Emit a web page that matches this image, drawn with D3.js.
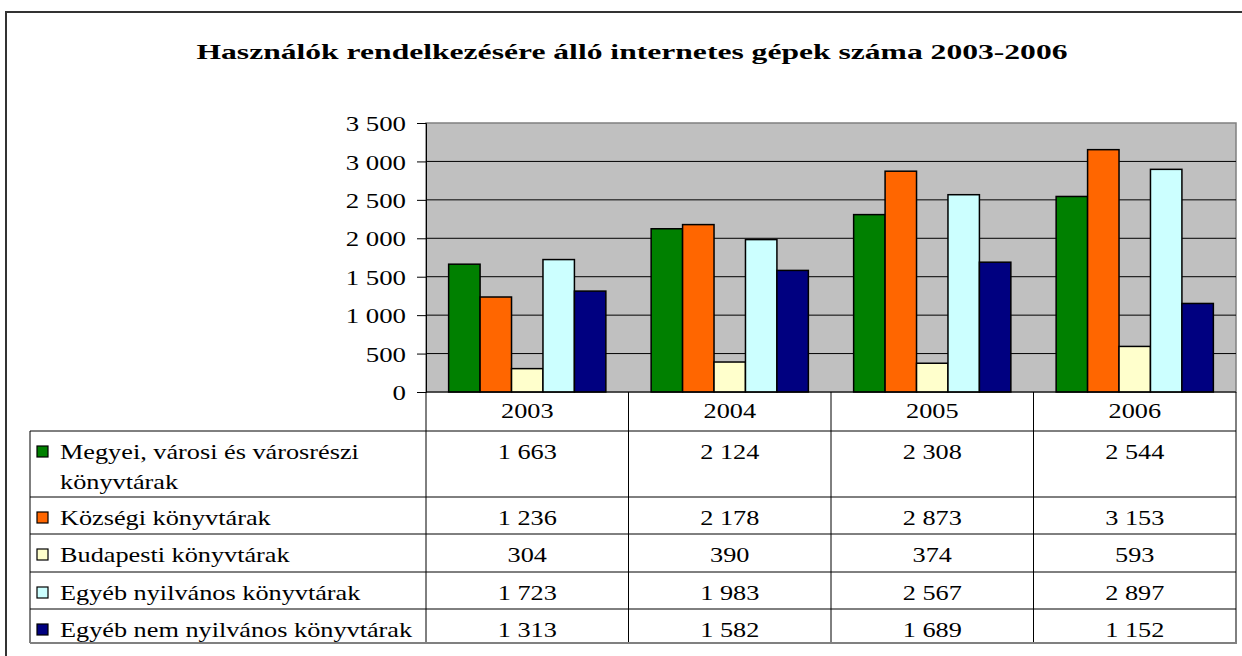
<!DOCTYPE html>
<html>
<head>
<meta charset="utf-8">
<title>Használók rendelkezésére álló internetes gépek száma 2003-2006</title>
<script src="https://d3js.org/d3.v7.min.js"></script>
<style>
  body { margin: 0; background: #fff; }
  svg text { font-family: "Liberation Serif", "DejaVu Serif", serif; }
  .grid line { stroke: #000; stroke-width: 1; }
  .tbl line { stroke: #000; stroke-width: 1; }
</style>
</head>
<body>
<svg id="chart" width="1242" height="656"></svg>
<script>
// data
var years = ["2003", "2004", "2005", "2006"];
var seriesNames = [
  ["Megyei, városi és városrészi", "könyvtárak"],
  ["Községi könyvtárak"],
  ["Budapesti könyvtárak"],
  ["Egyéb nyilvános könyvtárak"],
  ["Egyéb nem nyilvános könyvtárak"]
];
var megyei = [1663, 2124, 2308, 2544];
var kozsegi = [1236, 2178, 2873, 3153];
var budapesti = [304, 390, 374, 593];
var egyebNyilv = [1723, 1983, 2567, 2897];
var egyebNem = [1313, 1582, 1689, 1152];
var values = [megyei, kozsegi, budapesti, egyebNyilv, egyebNem];
var colors = ["#008000", "#ff6600", "#ffffcc", "#ccffff", "#000080"];
var yTicks = [0, 500, 1000, 1500, 2000, 2500, 3000, 3500];

var svg = d3.select("#chart");
var stretchK = 1.25;
var hu = d3.formatLocale({decimal: ",", thousands: " ", grouping: [3], currency: ["", ""]});
var fmt = hu.format(",d");

// text is drawn a bit wider than the font, like the original
function stretch(sel, k) {
  sel.each(function() {
    var w = this.getComputedTextLength();
    d3.select(this).attr("textLength", w * k).attr("lengthAdjust", "spacingAndGlyphs");
  });
}

// outer frame
svg.append("rect")
  .attr("x", 6).attr("y", 12).attr("width", 1250).attr("height", 660)
  .attr("fill", "none").attr("stroke", "#333").attr("stroke-width", 2);

// title
svg.append("text")
  .attr("x", 632).attr("y", 59)
  .attr("text-anchor", "middle")
  .style("font-size", "22px").style("font-weight", "bold")
  .text("Használók rendelkezésére álló internetes gépek száma 2003-2006")
  .attr("textLength", 871).attr("lengthAdjust", "spacingAndGlyphs");

// plot area
var plotLeft = 426, plotRight = 1236, plotTop = 123, plotBottom = 392;
var x0 = d3.scaleBand().domain(years).range([plotLeft, plotRight]).padding(0);
var x1 = d3.scaleBand().domain(d3.range(values.length))
  .range([0, x0.bandwidth()]).paddingInner(0).paddingOuter(0.72);
var y = d3.scaleLinear().domain([0, 3500]).range([plotBottom, plotTop]);

svg.append("rect")
  .attr("x", plotLeft).attr("y", plotTop)
  .attr("width", plotRight - plotLeft).attr("height", plotBottom - plotTop)
  .attr("fill", "#c0c0c0").attr("stroke", "#808080").attr("stroke-width", 1.5);

svg.append("g").attr("class", "grid")
  .selectAll("line").data(yTicks.filter(function(d) { return d > 0 && d < 3500; }))
  .enter().append("line")
  .attr("x1", plotLeft).attr("x2", plotRight)
  .attr("y1", function(d) { return y(d); }).attr("y2", function(d) { return y(d); });

// bars
var groups = svg.append("g").selectAll("g").data(years).enter().append("g")
  .attr("transform", function(d) { return "translate(" + x0(d) + ",0)"; });
groups.selectAll("rect")
  .data(function(d, i) { return values.map(function(s, j) { return {s: j, v: s[i]}; }); })
  .enter().append("rect")
  .attr("x", function(d) { return x1(d.s); })
  .attr("width", x1.bandwidth())
  .attr("y", function(d) { return y(d.v); })
  .attr("height", function(d) { return plotBottom - y(d.v); })
  .attr("fill", function(d) { return colors[d.s]; })
  .attr("stroke", "#000").attr("stroke-width", 1.5);

// y axis
var yAxis = d3.axisLeft(y).tickValues(yTicks).tickFormat(fmt).tickSize(9).tickPadding(11);
var ya = svg.append("g").attr("transform", "translate(" + plotLeft + ",0)").call(yAxis);
ya.attr("font-family", null).attr("font-size", null);
ya.select(".domain").attr("stroke", "#000");
ya.selectAll(".tick line").attr("stroke", "#000");
ya.selectAll(".tick text")
  .attr("fill", "#000")
  .style("font-size", "22px")
  .attr("dy", "0.35em");
stretch(ya.selectAll(".tick text"), 1.22);

// data table
var rowEdges = [392, 431, 497, 534, 572, 609, 643];
var tableBottom = rowEdges[rowEdges.length - 1];
var tbl = svg.append("g").attr("class", "tbl");
var colEdges = years.map(function(d) { return x0(d); }).concat([plotRight]);
var tableLeft = 30;

tbl.selectAll(".v").data(colEdges).enter().append("line")
  .attr("x1", function(d) { return d; }).attr("x2", function(d) { return d; })
  .attr("y1", plotBottom).attr("y2", tableBottom);
tbl.append("line").attr("x1", tableLeft).attr("x2", tableLeft)
  .attr("y1", rowEdges[1]).attr("y2", tableBottom);
tbl.selectAll(".h").data(rowEdges.slice(1, -1)).enter().append("line")
  .attr("x1", tableLeft).attr("x2", plotRight)
  .attr("y1", function(d) { return d; }).attr("y2", function(d) { return d; });
tbl.append("line").attr("x1", plotLeft).attr("x2", plotRight).attr("y1", plotBottom).attr("y2", plotBottom);
tbl.append("line")
  .attr("x1", tableLeft).attr("x2", plotRight + 1)
  .attr("y1", tableBottom).attr("y2", tableBottom)
  .style("stroke", "#808080").style("stroke-width", 2);

// header years
var hdr = tbl.selectAll(".yr").data(years).enter().append("text")
  .attr("x", function(d) { return x0(d) + x0.bandwidth() / 2; })
  .attr("y", rowEdges[0] + 26)
  .attr("text-anchor", "middle")
  .style("font-size", "21px")
  .text(function(d) { return d; });
stretch(hdr, stretchK);

// legend rows
values.forEach(function(s, j) {
  var rowTop = rowEdges[j + 1];
  var base = rowTop + 28;
  tbl.append("rect")
    .attr("x", 37).attr("y", base - 13).attr("width", 11).attr("height", 11)
    .attr("fill", colors[j]).attr("stroke", "#000").attr("stroke-width", 1.2);
  seriesNames[j].forEach(function(line, k) {
    var t = tbl.append("text")
      .attr("x", 60).attr("y", base + k * 30)
      .style("font-size", "21px")
      .text(line);
    stretch(t, stretchK);
  });
  var cells = tbl.selectAll(".c" + j).data(s).enter().append("text")
    .attr("x", function(d, i) { return x0(years[i]) + x0.bandwidth() / 2; })
    .attr("y", base)
    .attr("text-anchor", "middle")
    .style("font-size", "21px")
    .text(function(d) { return fmt(d); });
  stretch(cells, stretchK);
});
</script>
</body>
</html>
